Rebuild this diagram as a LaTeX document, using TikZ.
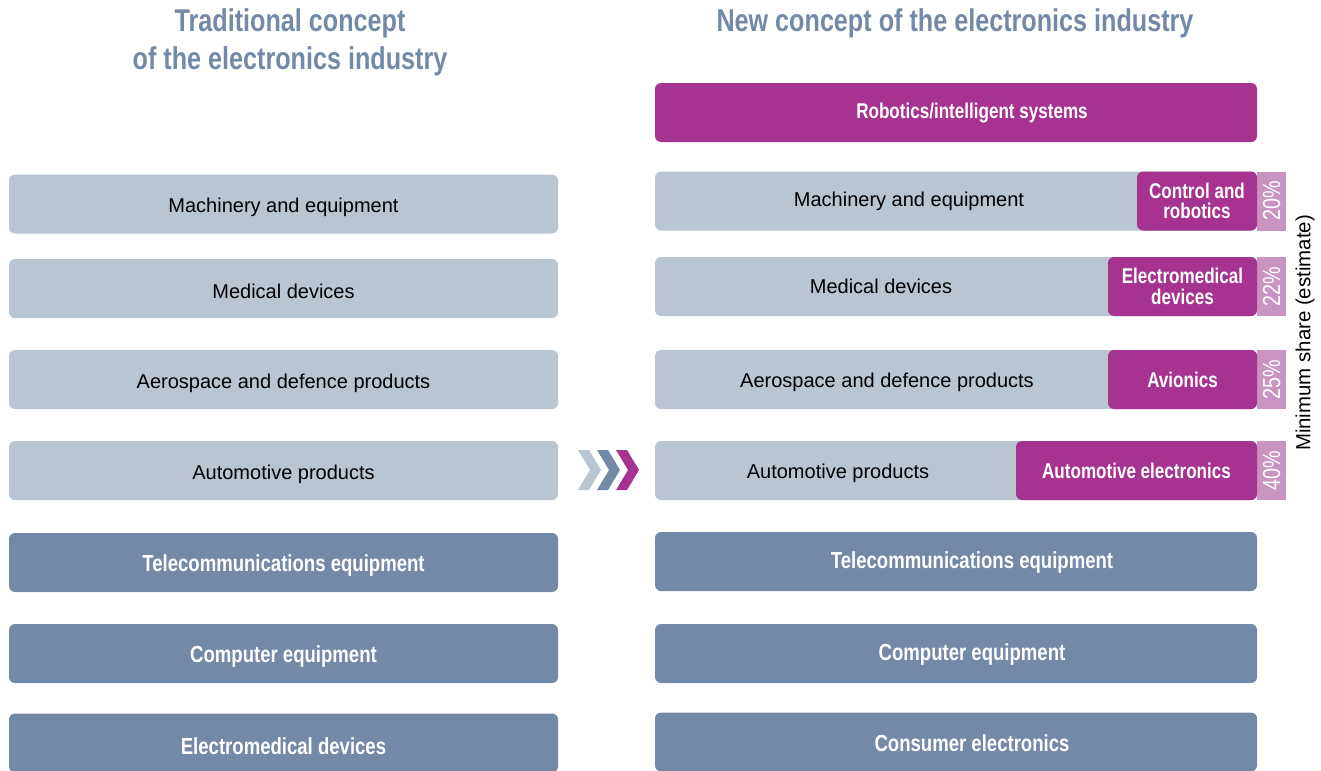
\documentclass[tikz,border=0pt]{standalone}
\usepackage{fontspec}
\setmainfont{Liberation Sans}
\newfontfamily\cond[FakeStretch=0.8]{Liberation Sans}
\newcommand{\dn}[1]{\raisebox{-2.5pt}[\height][\depth]{#1}}
\definecolor{lgray}{HTML}{B9C5D1}
\definecolor{dblue}{HTML}{7389A8}
\definecolor{mag}{HTML}{A5338F}
\definecolor{lmag}{HTML}{C994C2}
\tikzset{
  base/.style={inner sep=0pt, outer sep=0pt, minimum height=44.25pt, rounded corners=4.5pt},
  lbox/.style={base, fill=lgray, minimum width=411.75pt, font=\fontsize{15}{18}\selectfont},
  rlbox/.style={base, fill=lgray, minimum width=451.5pt},
  dbox/.style={base, fill=dblue, minimum width=411.75pt, text=white, font=\cond\bfseries\fontsize{17.4}{18}\selectfont},
  rdbox/.style={base, fill=dblue, minimum width=451.5pt},
  rtxt/.style={font=\fontsize{15}{18}\selectfont, inner sep=0pt},
  wtxt/.style={text=white, font=\cond\bfseries\fontsize{17.4}{18}\selectfont, inner sep=0pt},
  ins/.style={base, fill=mag, text=white, align=center, font=\cond\bfseries\fontsize{16}{15.5}\selectfont},
  pct/.style={inner sep=0pt, outer sep=0pt, fill=lmag, minimum width=21.75pt, minimum height=44.25pt, text=white, font=\cond\fontsize{18.5}{20}\selectfont},
  head/.style={text=dblue, align=center, font=\cond\bfseries\fontsize{23.6}{28.5}\selectfont, inner sep=0pt},
}
\begin{document}
\begin{tikzpicture}[x=0.75pt, y=-0.75pt]
\useasboundingbox (0,0) rectangle (1321,771);
% headings
\node[head] (h1) at (290,42) {Traditional concept\\of the electronics industry};
\node[head] (h2) at (955,23) {New concept of the electronics industry};
% left column
\node[lbox] (l1) at (283.5,204) {\dn{Machinery and equipment}};
\node[lbox] (l2) at (283.5,288.5) {\dn{Medical devices}};
\node[lbox] (l3) at (283.5,379.5) {\dn{Aerospace and defence products}};
\node[lbox] (l4) at (283.5,470.5) {\dn{Automotive products}};
\node[dbox] (l5) at (283.5,562.5) {\dn{Telecommunications equipment}};
\node[dbox] (l6) at (283.5,653.5) {\dn{Computer equipment}};
\node[dbox] (l7) at (283.5,743) {\dn{Electromedical devices}};
% chevrons
\foreach \c/\x in {lgray/578, dblue/597, mag/616}{
  \fill[\c] (\x,450) -- (\x+11,450) -- (\x+23,470) -- (\x+11,490) -- (\x,490) -- (\x+12,470) -- cycle;
}
% right column
\node[base, fill=mag, minimum width=451.5pt] (r0) at (956,112.5) {};
\node[wtxt, font=\cond\bfseries\fontsize{16}{18}\selectfont] (r0t) at (972,113) {Robotics/intelligent systems};
\node[rlbox] (r1) at (956,201) {};
\node[rlbox] (r2) at (956,286.5) {};
\node[rlbox] (r3) at (956,379.5) {};
\node[rlbox] (r4) at (956,470.5) {};
\node[rdbox] (r5) at (956,561.5) {};
\node[rdbox] (r6) at (956,653.5) {};
\node[rdbox] (r7) at (956,742) {};
\node[wtxt] (r5t) at (972,562) {Telecommunications equipment};
\node[wtxt] (r6t) at (972,654) {Computer equipment};
\node[wtxt] (r7t) at (972,743) {Consumer electronics};
% percentage strips
\node[pct] (p1) at (1271.5,201) {\rotatebox{90}{20\%}};
\node[pct] (p2) at (1271.5,286.5) {\rotatebox{90}{22\%}};
\node[pct] (p3) at (1271.5,379.5) {\rotatebox{90}{25\%}};
\node[pct] (p4) at (1271.5,470.5) {\rotatebox{90}{40\%}};
% magenta inserts
\node[ins, minimum width=90pt] (i1) at (1197,201) {Control and\\robotics};
\node[ins, minimum width=111.75pt] (i2) at (1182.5,286.5) {Electromedical\\devices};
\node[ins, minimum width=111.75pt] (i3) at (1182.5,379.5) {Avionics};
\node[ins, minimum width=180.75pt] (i4) at (1136.5,470.5) {Automotive electronics};
% labels in the grey part
\node[rtxt] (t1) at (909,201) {Machinery and equipment};
\node[rtxt] (t2) at (881,286) {Medical devices};
\node[rtxt] (t3) at (887,382) {Aerospace and defence products};
\node[rtxt] (t4) at (838,473) {Automotive products};
% side label
\node[rotate=90, font=\fontsize{15.3}{18}\selectfont, inner sep=0pt] (ms) at (1305,333) {Minimum share (estimate)};
\end{tikzpicture}
\end{document}
